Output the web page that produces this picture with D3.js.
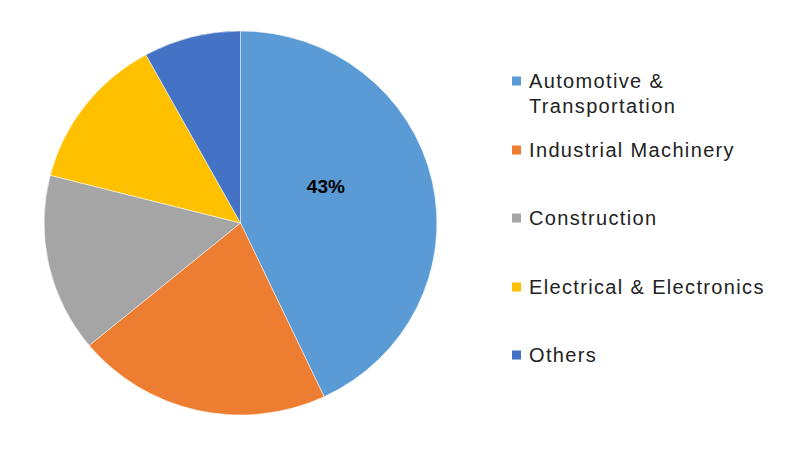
<!DOCTYPE html>
<html><head><meta charset="utf-8">
<script src="https://cdn.jsdelivr.net/npm/d3@7"></script>
<style>body{margin:0;background:#fff}svg{display:block}</style>
</head><body>
<svg id="c" width="800" height="469"></svg>
<script>
const categories = ["Automotive & Transportation","Industrial Machinery","Construction","Electrical & Electronics","Others"];
const legendLines = [["Automotive &","Transportation"],["Industrial Machinery"],["Construction"],["Electrical & Electronics"],["Others"]];
const values = [43, 21, 15, 13, 8];
const colors = ["#5B9BD5","#ED7D31","#A5A5A5","#FFC000","#4472C4"];
const shownLabels = ["43%", null, null, null, null];

const svg = d3.select("#c");
const cx = 240.5, cy = 223, r = 192;
const pie = d3.pie().sort(null).value(d => d)(values);
const arc = d3.arc().innerRadius(0).outerRadius(r);
const g = svg.append("g").attr("transform", `translate(${cx},${cy}) scale(1.023,1)`);
g.selectAll("path").data(pie).join("path")
  .attr("d", arc).attr("fill", (d,i) => colors[i])
  .attr("stroke", "#fff").attr("stroke-width", 0.5);

// data label placement (Excel-style, slightly off centroid)
const lblR = 93;
const lg0 = svg.append("g").attr("transform", `translate(${cx},${cy})`);
lg0.selectAll("text").data(pie.filter((d,i)=>shownLabels[i])).join("text")
  .attr("transform", d => {
    const a = d.startAngle + (d.endAngle - d.startAngle) * 0.43;
    return `translate(${lblR*Math.sin(a)},${-lblR*Math.cos(a)})`;
  })
  .attr("text-anchor","middle").attr("dy","0.35em")
  .attr("font-family","Liberation Sans, Arial, sans-serif").attr("font-weight","bold").attr("font-size",19)
  .attr("fill","#000").text((d) => shownLabels[d.index]);

const legendY = [81, 150, 218, 287, 355];
const lg = svg.append("g");
categories.forEach((c,i) => {
  const y = legendY[i];
  lg.append("rect").attr("x",512).attr("y",y-4.5).attr("width",9).attr("height",9).attr("fill",colors[i]);
  const t = lg.append("text").attr("x",529).attr("y",y)
    .attr("font-family","Liberation Sans, Arial, sans-serif").attr("font-size",20)
    .attr("letter-spacing",1.35).attr("fill","#222");
  legendLines[i].forEach((l,j) => t.append("tspan").attr("x",529).attr("dy", j===0 ? "0.35em" : "25px").text(l));
});
</script>
</body></html>
